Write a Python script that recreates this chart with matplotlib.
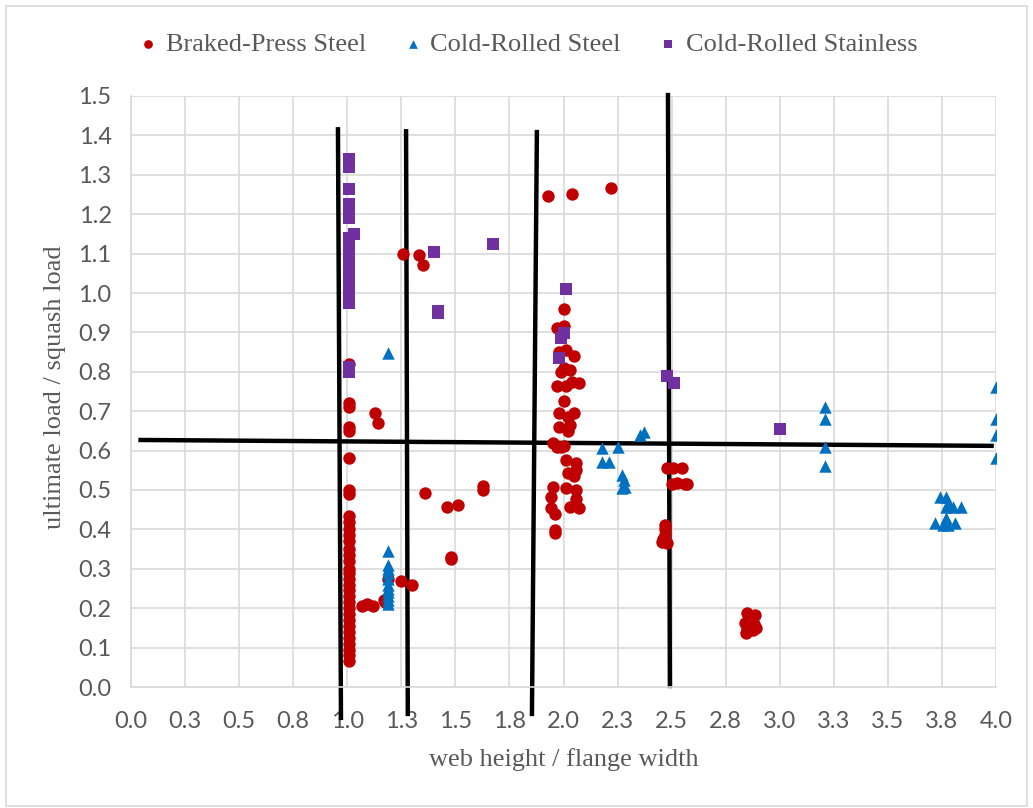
import matplotlib
matplotlib.use("Agg")
import matplotlib.pyplot as plt
from matplotlib.patches import Rectangle

# ---------------- data ----------------
bp_x = [1.01]*33 + [1.07, 1.09, 1.12, 1.13, 1.14, 1.175, 1.17, 1.19, 1.25, 1.30, 1.26, 1.33, 1.35,
        1.36, 1.46, 1.51, 1.48, 1.48, 1.63, 1.63, 1.93, 2.04, 2.22,
        2.00, 1.97, 2.00, 1.98, 2.01, 2.05, 1.99, 2.03, 2.00, 1.97, 2.01, 2.04, 2.07, 2.00,
        1.98, 2.05, 2.02, 1.98, 2.03, 2.02, 1.95, 1.97, 2.00, 1.99, 2.01, 2.06, 2.02, 2.06,
        2.05, 1.95, 2.01, 2.06, 1.94, 2.06, 1.94, 2.03, 2.07, 1.96, 1.96, 1.96,
        2.48, 2.505, 2.55, 2.50, 2.525, 2.56, 2.57, 2.47, 2.47, 2.47, 2.455, 2.48, 2.46,
        2.85, 2.885, 2.84, 2.86, 2.875, 2.845, 2.89, 2.85, 2.88]
bp_y = [0.82, 0.72, 0.71, 0.66, 0.65, 0.58, 0.50, 0.49, 0.435, 0.42, 0.40, 0.385, 0.37, 0.35,
        0.335, 0.32, 0.30, 0.29, 0.275, 0.26, 0.245, 0.23, 0.215, 0.20, 0.185, 0.17, 0.155,
        0.14, 0.125, 0.11, 0.095, 0.08, 0.065,
        0.205, 0.21, 0.205, 0.695, 0.67, 0.215, 0.22, 0.275, 0.27, 0.26, 1.10, 1.096, 1.07,
        0.492, 0.457, 0.462, 0.33, 0.325, 0.51, 0.50, 1.246, 1.251, 1.267,
        0.96, 0.91, 0.915, 0.85, 0.855, 0.84, 0.80, 0.805, 0.81, 0.765, 0.765, 0.775, 0.772, 0.726,
        0.695, 0.695, 0.685, 0.66, 0.665, 0.65, 0.62, 0.61, 0.612, 0.61, 0.576, 0.568, 0.543, 0.55,
        0.535, 0.508, 0.505, 0.50, 0.482, 0.477, 0.455, 0.457, 0.455, 0.44, 0.398, 0.39,
        0.556, 0.556, 0.556, 0.515, 0.518, 0.515, 0.515, 0.41, 0.40, 0.386, 0.368, 0.366, 0.375,
        0.188, 0.183, 0.162, 0.157, 0.145, 0.137, 0.15, 0.15, 0.16]

cr_x = [1.19]*12 + [2.18, 2.25, 2.18, 2.21, 2.27, 2.28, 2.27, 2.285, 2.37, 2.355,
        3.21, 3.21, 3.21, 3.21, 4.0, 4.0, 4.0, 4.0,
        3.74, 3.77, 3.78, 3.77, 3.80, 3.84, 3.72, 3.77, 3.78, 3.81, 3.755]
cr_y = [0.848, 0.345, 0.31, 0.30, 0.29, 0.275, 0.26, 0.25, 0.24, 0.23, 0.22, 0.21,
        0.607, 0.609, 0.571, 0.571, 0.538, 0.525, 0.505, 0.508, 0.647, 0.64,
        0.711, 0.68, 0.609, 0.561, 0.761, 0.68, 0.64, 0.581,
        0.482, 0.482, 0.467, 0.457, 0.457, 0.457, 0.416, 0.429, 0.411, 0.416, 0.411]

ss_x = [1.01]*8 + [1.03] + [1.01]*12 + [1.40, 1.675, 1.42, 1.42, 2.01, 2.00, 1.99, 1.98, 2.48, 2.51, 3.00]
ss_y = [1.34, 1.33, 1.32, 1.264, 1.225, 1.215, 1.20, 1.19, 1.15, 1.14, 1.12, 1.10, 1.09, 1.07,
        1.05, 1.03, 1.01, 0.99, 0.975, 0.812, 0.80,
        1.104, 1.124, 0.949, 0.955, 1.01, 0.898, 0.886, 0.835, 0.79, 0.772, 0.655]

series_names = ["Braked-Press Steel", "Cold-Rolled Steel", "Cold-Rolled Stainless"]

# hand-drawn divider lines (data coordinates: x0, y0, x1, y1)
divider_lines = [
    (0.957, 1.421, 0.971, -0.084),
    (1.272, 1.416, 1.280, -0.074),
    (1.877, 1.414, 1.854, -0.074),
    (2.483, 1.508, 2.492, -0.003),
    (0.034, 0.627, 3.99, 0.612),
]

x_ticks = [0.0, 0.25, 0.5, 0.75, 1.0, 1.25, 1.5, 1.75, 2.0, 2.25, 2.5, 2.75, 3.0, 3.25, 3.5, 3.75, 4.0]
x_tick_labels = ["0.0", "0.3", "0.5", "0.8", "1.0", "1.3", "1.5", "1.8", "2.0", "2.3", "2.5",
                 "2.8", "3.0", "3.3", "3.5", "3.8", "4.0"]
y_ticks = [i / 10 for i in range(16)]
y_tick_labels = ["%.1f" % v for v in y_ticks]

# ---------------- plot ----------------
W, H = 1033, 808
fig = plt.figure(figsize=(W / 100, H / 100), dpi=100)
fig.patch.set_facecolor("white")
ax = fig.add_axes([131 / W, 1 - 687 / H, (996 - 131) / W, (687 - 96) / H])

grid_c = "#D9D9D9"
txt_c = "#595959"

ax.set_xlim(0, 4.0)
ax.set_ylim(0, 1.5)
ax.set_xticks(x_ticks)
ax.set_xticklabels(x_tick_labels)
ax.set_yticks(y_ticks)
ax.set_yticklabels(y_tick_labels)
ax.grid(True, color=grid_c, linewidth=1.2, zorder=0)
ax.set_axisbelow(True)
for s in ["top", "right"]:
    ax.spines[s].set_visible(False)
for s in ["left", "bottom"]:
    ax.spines[s].set_color(grid_c)
    ax.spines[s].set_linewidth(1.2)
ax.tick_params(length=0, labelsize=17, labelcolor=txt_c)
ax.tick_params(axis="x", pad=17)
ax.tick_params(axis="y", pad=14)
for lab in ax.get_xticklabels() + ax.get_yticklabels():
    lab.set_family("Lato")

for (x0, y0, x1, y1) in divider_lines:
    ax.plot([x0, x1], [y0, y1], color="black", linewidth=3.2, solid_capstyle="butt",
            clip_on=False, zorder=2)

ax.scatter(bp_x, bp_y, s=80, marker="o", color="#C00000", zorder=3, label=series_names[0],
           linewidths=0)
ax.scatter(cr_x, cr_y, s=80, marker="^", color="#0070C0", zorder=4, label=series_names[1],
           linewidths=0)
ax.scatter(ss_x, ss_y, s=85, marker="s", color="#7030A0", zorder=5, label=series_names[2],
           linewidths=0)

fig.text((131 + 996) / 2 / W, 1 - 760 / H, "web height / flange width", family="Liberation Serif",
         fontsize=19, color=txt_c, ha="center", va="center")
fig.text(55 / W, 1 - 387 / H, "ultimate load / squash load", family="Liberation Serif",
         fontsize=19, color=txt_c, ha="center", va="center", rotation=90)

leg = fig.legend(loc="center", bbox_to_anchor=(0.512, 1 - 44 / H), ncol=3, frameon=False,
                 markerscale=0.7, handlelength=0.6, handletextpad=0.35, columnspacing=1.5,
                 prop={"family": "Liberation Serif", "size": 19})
for t in leg.get_texts():
    t.set_color(txt_c)

fig.patches.append(Rectangle((6 / W, 2 / H), 1021 / W, 800 / H, transform=fig.transFigure,
                             fill=False, edgecolor=grid_c, linewidth=1.2))

fig.savefig("out.png", dpi=100)
